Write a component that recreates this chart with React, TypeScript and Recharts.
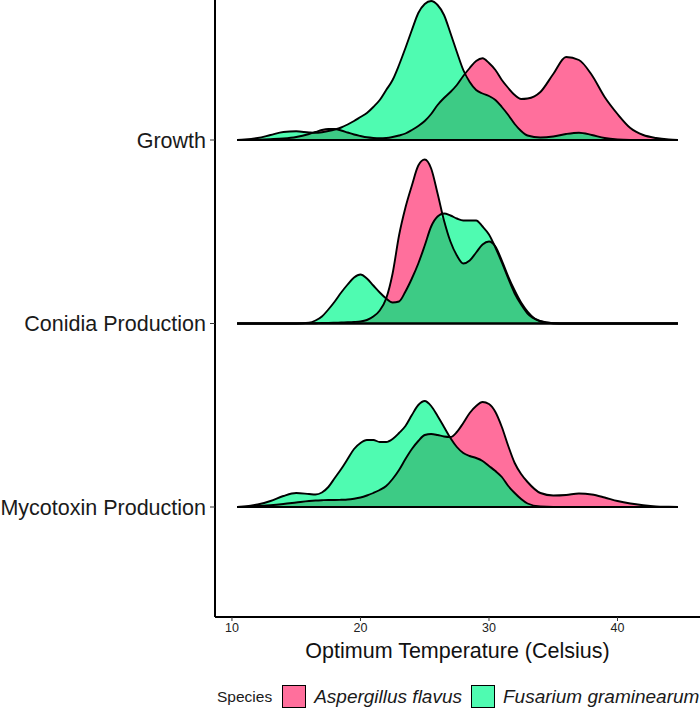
import { ComposedChart, Area, XAxis, YAxis } from 'recharts';

// temperature grid (Celsius) the density curves were read on
const temps = [
  10.4, 11, 12, 13, 14, 15, 16, 16.5, 17, 17.5, 18, 18.5, 19, 19.5, 20, 20.5, 21, 21.5, 22, 22.5, 23,
  23.5, 24, 24.5, 25, 25.5, 26, 26.5, 27, 27.5, 28, 28.5, 29, 29.5, 30, 30.5, 31, 31.5, 32, 32.5, 33,
  34, 35, 36, 37, 38, 39, 40, 41, 42, 43, 44, 44.7,
];

// density heights per trait and species
const growthAfl = [
  0, 0, 0.3, 0.8, 1.5, 3, 6, 8, 10, 11, 11, 9.5, 7.5, 5.5, 4, 2.7, 2, 1.7, 2, 3, 4.5,
  6.5, 10, 14, 19, 26, 35, 42, 48, 55, 64, 72, 79, 81.7, 77, 70, 60, 52, 45, 41, 41.5,
  48, 66, 83, 80, 65, 43, 26, 12, 5, 2, 0.5, 0,
];
const growthFgr = [
  0, 0.5, 2, 5, 8, 8.7, 7.5, 7.2, 7.8, 9, 10.5, 12.5, 15.5, 19, 23, 27, 33, 40, 50, 60, 75,
  92, 110, 127, 136, 139, 135, 125, 107, 88, 70, 58, 50, 46.5, 44, 40, 33, 25, 16, 9, 4.5,
  2.5, 3.5, 6, 7.3, 5, 2, 0.6, 0.1, 0, 0, 0, 0,
];
const conidiaAfl = [
  0, 0, 0, 0, 0, 0, 0.2, 0.3, 0.5, 0.6, 0.8, 1, 1.2, 1.5, 2, 3.5, 7, 13, 25, 50, 88,
  116, 138, 158, 164, 155, 130, 103, 82, 68, 60, 63, 71, 79, 82, 77, 63, 47, 33, 21, 12,
  2, 0.3, 0, 0, 0, 0, 0, 0, 0, 0, 0, 0,
];
const conidiaFgr = [
  0, 0, 0, 0, 0, 0, 0.8, 3, 7, 14, 22, 31, 39, 46, 49, 45, 38, 31, 25, 21, 22,
  32, 45, 60, 78, 97, 107, 110, 108, 105, 103, 103, 103, 97, 89, 76, 61, 45, 30, 19, 10,
  2.5, 0.3, 0, 0, 0, 0, 0, 0, 0, 0, 0, 0,
];
const mycoAfl = [
  0, 0.3, 1, 1.8, 3, 4.5, 6, 6.5, 6.8, 7, 7, 7.2, 7.5, 8.3, 9.5, 11.5, 14, 17, 21, 28, 37,
  48, 58, 66, 72, 73, 72, 70.5, 70, 75, 84, 94, 101, 105, 103, 95, 80, 61, 44, 33, 25,
  14, 11.5, 12, 13.5, 12.5, 9.5, 6, 3.5, 1.8, 0.6, 0.2, 0,
];
const mycoFgr = [
  0, 0.5, 2.5, 6, 11, 14, 13, 12.5, 14.5, 20, 29, 38, 48, 58, 64, 67, 67, 65, 65, 68, 74,
  81, 92, 102, 106, 101, 91, 80, 69, 60, 54, 51, 49, 46, 41, 36, 30, 21, 14, 8, 3.5,
  0.5, 0, 0, 0, 0, 0, 0, 0, 0, 0, 0, 0,
];

const traits = ['Mycotoxin Production', 'Conidia Production', 'Growth'];
const traitBase = [0, 183.5, 367];
const xTicks = [10, 20, 30, 40];
const species = ['Aspergillus flavus', 'Fusarium graminearum'];

const PINK = '#ff6f9c';
const GREEN = '#4ffbb1';
const BOTH = '#3dcb85';
const FONT = "'Liberation Sans', Arial, sans-serif";

const rows = temps.map((t, i) => ({
  t,
  gA: growthAfl[i],
  gF: growthFgr[i],
  cA: conidiaAfl[i],
  cF: conidiaFgr[i],
  mA: mycoAfl[i],
  mF: mycoFgr[i],
}));

const ridges = [
  { a: 'mA', f: 'mF', base: traitBase[0] },
  { a: 'cA', f: 'cF', base: traitBase[1] },
  { a: 'gA', f: 'gF', base: traitBase[2] },
];

export default function App() {
  const fills: any[] = [];
  const outlines: any[] = [];
  ridges.forEach((r) => {
    const afl = (d: any) => [r.base, r.base + d[r.a]];
    const fgr = (d: any) => [r.base, r.base + d[r.f]];
    const both = (d: any) => [r.base, r.base + Math.min(d[r.a], d[r.f])];
    fills.push(
      <Area key={r.a + 'p'} type="monotone" dataKey={afl} fill={PINK} fillOpacity={1} stroke="none" dot={false} activeDot={false} isAnimationActive={false} />,
      <Area key={r.f + 'p'} type="monotone" dataKey={fgr} fill={GREEN} fillOpacity={1} stroke="none" dot={false} activeDot={false} isAnimationActive={false} />,
      <Area key={r.a + 'o'} type="monotone" dataKey={both} fill={BOTH} fillOpacity={1} stroke="none" dot={false} activeDot={false} isAnimationActive={false} />,
    );
    outlines.push(
      <Area key={r.a + 'l'} type="monotone" dataKey={afl} fill="none" stroke="#000" strokeWidth={1.9} dot={false} activeDot={false} isAnimationActive={false} />,
      <Area key={r.f + 'l'} type="monotone" dataKey={fgr} fill="none" stroke="#000" strokeWidth={1.9} dot={false} activeDot={false} isAnimationActive={false} />,
    );
  });

  return (
    <div style={{ position: 'absolute', left: 0, top: 0, width: 700, height: 710, background: '#fff', fontFamily: FONT }}>
      <ComposedChart width={700} height={665} data={rows} margin={{ top: 0, right: 0, bottom: 0, left: 0 }}>
        <XAxis
          dataKey="t"
          type="number"
          domain={[8.68, 46.42]}
          ticks={xTicks}
          allowDataOverflow
          height={48}
          axisLine={{ stroke: '#000', strokeWidth: 2 }}
          tickLine={{ stroke: '#333' }}
          tickSize={4}
          tick={{ fill: '#222', fontSize: 12.5, fontFamily: FONT }}
          label={{ value: 'Optimum Temperature (Celsius)', position: 'insideBottom', offset: 7.5, fill: '#111', fontSize: 21.5, fontFamily: FONT }}
        />
        <YAxis
          type="number"
          domain={[-110, 507]}
          ticks={traitBase}
          allowDataOverflow
          width={215}
          tickFormatter={(v: number) => traits[traitBase.indexOf(v)]}
          axisLine={{ stroke: '#000', strokeWidth: 2 }}
          tickLine={{ stroke: '#333' }}
          tickSize={5}
          tickMargin={4}
          tick={{ fill: '#1a1a1a', fontSize: 21.5, fontFamily: FONT }}
        />
        {fills}
        {outlines}
      </ComposedChart>
      <div style={{ position: 'absolute', left: 217, top: 685, height: 23, display: 'flex', alignItems: 'center', color: '#1a1a1a', whiteSpace: 'nowrap' }}>
        <span style={{ fontSize: 15.5, marginRight: 10 }}>Species</span>
        <span style={{ width: 22, height: 21, background: PINK, border: '1.2px solid #000', marginRight: 8 }} />
        <span style={{ fontSize: 19, fontStyle: 'italic', marginRight: 9 }}>{species[0]}</span>
        <span style={{ width: 22, height: 21, background: GREEN, border: '1.2px solid #000', marginRight: 8 }} />
        <span style={{ fontSize: 19, fontStyle: 'italic' }}>{species[1]}</span>
      </div>
    </div>
  );
}
